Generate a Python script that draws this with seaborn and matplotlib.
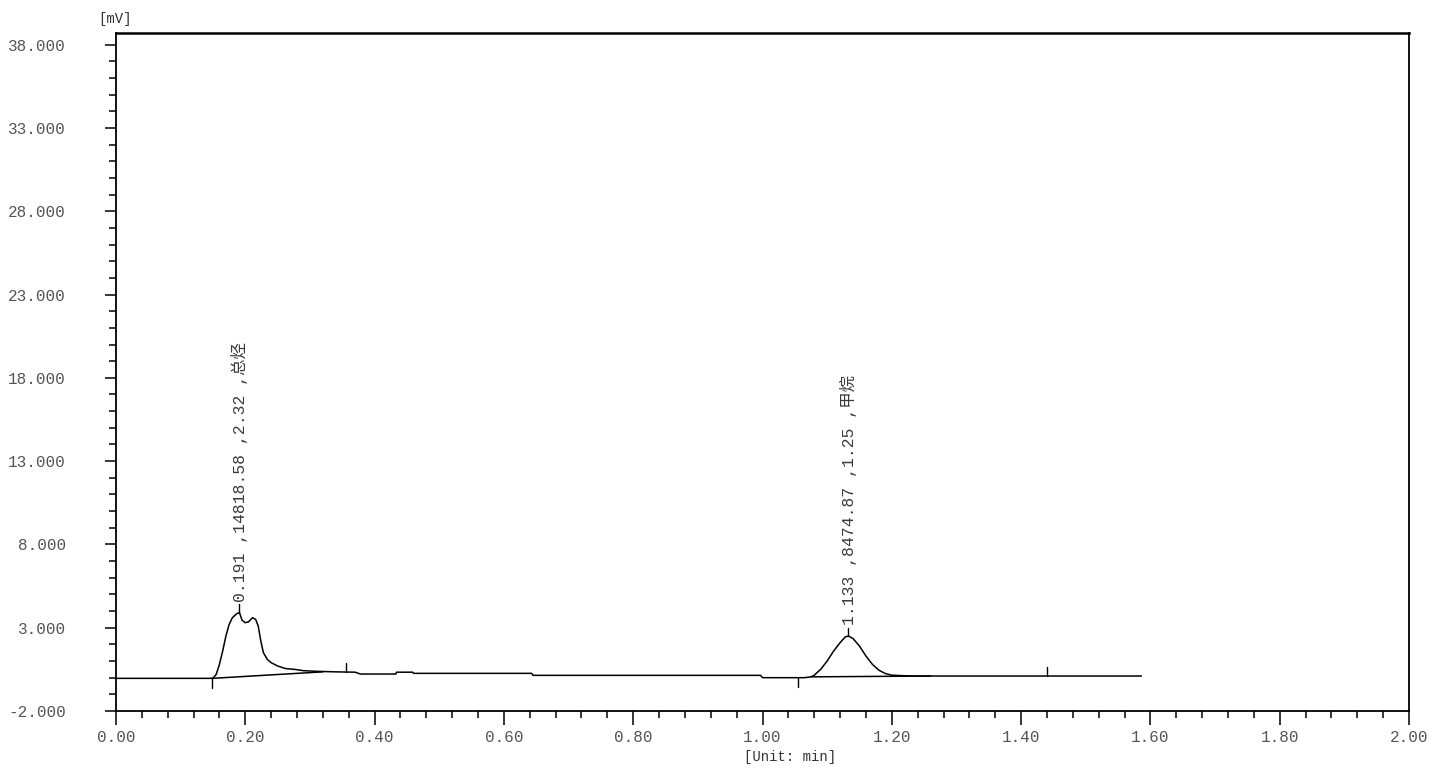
import numpy as np
import pandas as pd
import seaborn as sns
import matplotlib.pyplot as plt
from matplotlib.ticker import MultipleLocator, FixedLocator

# --- chromatogram trace (time in min, signal in mV) ---
time_min = [0.000, 0.145, 0.150, 0.155, 0.160, 0.165, 0.170, 0.175, 0.180, 0.187,
            0.191, 0.195, 0.200, 0.205, 0.211, 0.216, 0.220, 0.224, 0.228, 0.234,
            0.240, 0.250, 0.262, 0.276, 0.290, 0.312, 0.340, 0.370, 0.378, 0.433,
            0.434, 0.459, 0.460, 0.643, 0.645, 0.997, 1.000, 1.065, 1.075, 1.080,
            1.090, 1.100, 1.110, 1.120, 1.128, 1.133, 1.140, 1.150, 1.160, 1.170,
            1.180, 1.190, 1.200, 1.230, 1.260, 1.586]
signal_mv = [-0.04, -0.04, -0.03, 0.20, 0.80, 1.60, 2.50, 3.20, 3.60, 3.85,
             3.90, 3.45, 3.30, 3.35, 3.60, 3.50, 3.10, 2.20, 1.50, 1.10,
             0.90, 0.70, 0.55, 0.50, 0.42, 0.38, 0.35, 0.33, 0.22, 0.22,
             0.33, 0.33, 0.26, 0.26, 0.14, 0.14, 0.00, 0.00, 0.05, 0.15,
             0.50, 1.00, 1.60, 2.10, 2.45, 2.50, 2.35, 1.90, 1.30, 0.80,
             0.45, 0.25, 0.15, 0.10, 0.10, 0.10]

# integration baselines (start/end of each peak)
base_t = [(0.149, 0.320), (1.075, 1.260)]
base_v = [(-0.04, 0.35), (0.05, 0.10)]

# peak event markers: time, signal, direction (+1 up, -1 down)
event_t = [0.149, 0.355, 1.055, 1.440]
event_v = [-0.04, 0.35, 0.00, 0.10]
event_dir = [-1, 1, -1, 1]

# peak annotations
peak_rt = [0.191, 1.133]
peak_height = [3.90, 2.50]
peak_labels = ["0.191 ,14818.58 ,2.32 ,总烃", "1.133 ,8474.87 ,1.25 ,甲烷"]

y_ticks = [-2, 3, 8, 13, 18, 23, 28, 33, 38]
x_ticks = [0.0, 0.2, 0.4, 0.6, 0.8, 1.0, 1.2, 1.4, 1.6, 1.8, 2.0]

sns.set_style("ticks")
plt.rcParams['font.family'] = ['Liberation Mono', 'Noto Sans CJK SC', 'DejaVu Sans']

df = pd.DataFrame({"time": time_min, "signal": signal_mv})

fig = plt.figure(figsize=(14.32, 7.7), dpi=100)
ax = fig.add_axes([116 / 1432, 1 - 711 / 770, (1409 - 116) / 1432, (711 - 33) / 770])

sns.lineplot(data=df, x="time", y="signal", color="black", linewidth=1.1,
             estimator=None, sort=False, ax=ax)

for (t0, t1), (v0, v1) in zip(base_t, base_v):
    ax.plot([t0, t1], [v0, v1], color="black", linewidth=1.1)

for t, v, d in zip(event_t, event_v, event_dir):
    ax.plot([t, t], [v, v + d * 0.55], color="black", linewidth=1.0)

for rt, h, lab in zip(peak_rt, peak_height, peak_labels):
    ax.plot([rt, rt], [h, h + 0.5], color="black", linewidth=1.0)
    ax.text(rt, h + 0.65, lab, rotation=90, ha="center", va="bottom",
            fontsize=11.8, color="#3a3a3a")

ax.set_xlim(0, 2.0)
ax.set_ylim(-2, 38.7)
ax.yaxis.set_major_locator(FixedLocator(y_ticks))
ax.yaxis.set_minor_locator(MultipleLocator(1))
ax.set_yticklabels([f"{v:.3f}" for v in y_ticks])
ax.xaxis.set_major_locator(FixedLocator(x_ticks))
ax.xaxis.set_minor_locator(MultipleLocator(0.04))
ax.set_xticklabels([f"{v:.2f}" for v in x_ticks])

ax.tick_params(axis="y", which="major", direction="out", length=8, width=1.3,
               pad=28, labelsize=11.5, labelcolor="#555555")
ax.tick_params(axis="y", which="minor", direction="out", length=5, width=1.3)
ax.tick_params(axis="x", which="major", direction="out", length=10, width=1.3,
               pad=4, labelsize=11.5, labelcolor="#555555")
ax.tick_params(axis="x", which="minor", direction="out", length=5, width=1.3)

for side in ["left", "bottom", "top", "right"]:
    ax.spines[side].set_visible(True)
    ax.spines[side].set_color("black")
    ax.spines[side].set_linewidth(1.3)
ax.spines["top"].set_linewidth(1.8)

ax.set_ylabel("")
ax.set_xlabel("[Unit: min]", fontsize=10, color="#333333")
ax.xaxis.set_label_coords((790 - 116) / 1293, -(750 - 711) / 678)

fig.text(115 / 1432, 1 - 19 / 770, "[mV]", ha="center", va="center",
         fontsize=10, color="#333333")

fig.savefig("out.png", dpi=100)
